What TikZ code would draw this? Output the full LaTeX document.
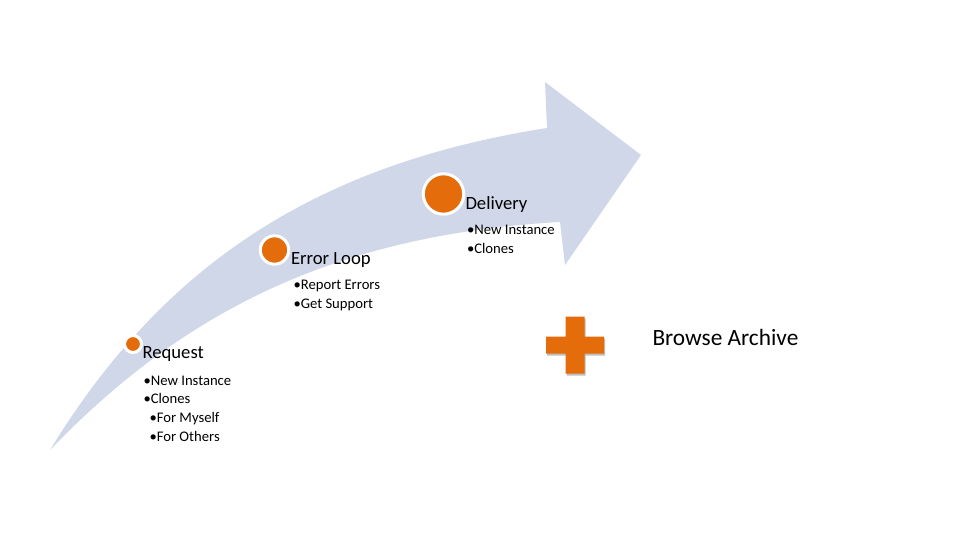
\documentclass[tikz,border=0pt]{standalone}
\usepackage{fontspec}
\setmainfont{Carlito}

\definecolor{arrowBlue}{RGB}{207,215,232}
\definecolor{stageOrange}{RGB}{228,108,10}

\tikzset{every picture/.style={line width=0.75pt}}
\tikzset{
  stagedot/.style={circle, fill=stageOrange, draw=white, line width=2.25pt, inner sep=0pt},
  stagelabel/.style={anchor=base west, inner sep=0pt, font=\fontsize{14}{17}\selectfont},
  itemlist/.style={anchor=base west, inner sep=0pt, align=left, font=\fontsize{11}{14}\selectfont}
}

\begin{document}
\begin{tikzpicture}[x=0.75pt,y=0.75pt,yscale=-1,xscale=1]
\useasboundingbox (0,0) rectangle (960,540);

%Shape: Curved Right Arrow
\fill[arrowBlue] (50,450) .. controls (160,270) and (310,165) .. (547,128) -- (545,82) -- (641,155) -- (565,265) -- (560,222) .. controls (330,235) and (180,315) .. (50,450) -- cycle ;

%Shape: Circle
\node[stagedot, minimum size=12.75pt] (reqDot) at (133,344) {};
%Shape: Circle
\node[stagedot, minimum size=21.3pt] (errDot) at (274.5,250) {};
%Shape: Circle
\node[stagedot, minimum size=30.3pt] (delDot) at (443.5,194) {};

% Text Node
\draw (142,358.5) node [stagelabel] (reqLabel) {Request};
% Text Node (anchored at the baseline of its last line)
\draw (143,441) node [itemlist] (reqList) {•New Instance\\•Clones\\\hspace*{4.5pt}•For Myself\\\hspace*{4.5pt}•For Others};

% Text Node
\draw (290.5,264) node [stagelabel] (errLabel) {Error Loop};
% Text Node
\draw (293,308.5) node [itemlist] (errList) {•Report Errors\\•Get Support};

% Text Node
\draw (465,209.8) node [stagelabel] (delLabel) {Delivery};
% Text Node
\draw (466.5,253.5) node [itemlist] (delList) {•New Instance\\•Clones};

%Shape: Cross
\fill[stageOrange, preaction={fill=black!25, transform canvas={shift={(0.75pt,-1.5pt)}}}] (565.5,316.5) -- (584.5,316.5) -- (584.5,336.5) -- (604,336.5) -- (604,353.5) -- (584.5,353.5) -- (584.5,373.5) -- (565.5,373.5) -- (565.5,353.5) -- (546,353.5) -- (546,336.5) -- (565.5,336.5) -- cycle ;

% Text Node
\draw (652,345) node [anchor=base west][inner sep=0pt] (browseLabel) {\fontsize{17.5}{21}\selectfont Browse Archive};

\end{tikzpicture}
\end{document}
